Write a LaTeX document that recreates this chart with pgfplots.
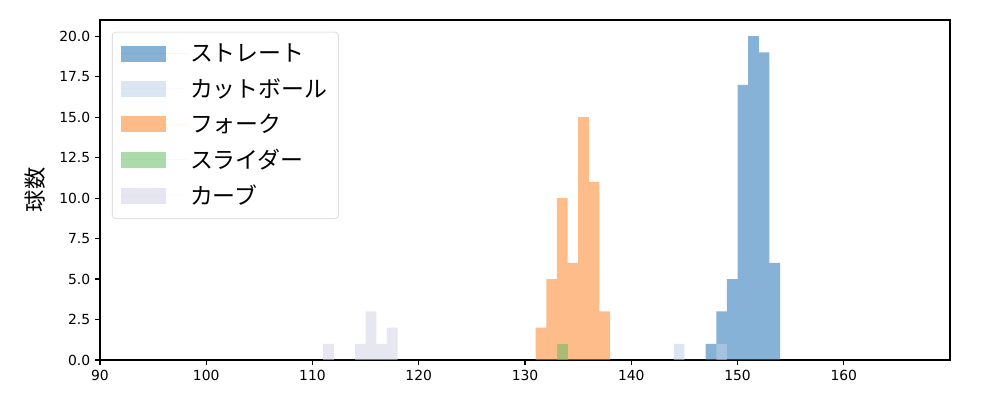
\documentclass[border=0pt]{standalone}
\usepackage{pgfplots}
\pgfplotsset{compat=1.18}
\usepackage{fontspec}
\setmainfont{DejaVu Sans}
\newfontfamily\jp{Noto Sans CJK JP}
\definecolor{cStr}{RGB}{33,115,180}
\definecolor{cCut}{RGB}{188,210,231}
\definecolor{cFork}{RGB}{251,133,42}
\definecolor{cSl}{RGB}{104,188,97}
\definecolor{cCur}{RGB}{211,211,230}
\pgfplotsset{limg/.style={legend image code/.code={\fill[#1, fill opacity=0.55, sharp corners] (0pt,-5.8pt) rectangle (33pt,5.8pt); \path (0pt,0pt) -- (48pt,0pt);}}}
\begin{document}
\begin{tikzpicture}
\path[use as bounding box] (-72pt,-28.8pt) rectangle (648pt,259.2pt);
\begin{axis}[
  at={(0,0)}, anchor=south west,
  scale only axis, width=612pt, height=244.8pt,
  xmin=90, xmax=170, ymin=0, ymax=21,
  xtick={90,100,...,160},
  ytick={0,2.5,...,20},
  yticklabel style={/pgf/number format/.cd, fixed, fixed zerofill, precision=1},
  /pgf/number format/assume math mode=true,
  tick label style={font=\fontsize{10}{12}\selectfont},
  tick align=outside, axis line style={line width=0.8pt},
  major tick style={line width=0.8pt, black},
  major tick length=3.5pt,
  xtick pos=bottom, ytick pos=left,
  ylabel={\jp 球数},
  ylabel style={font=\fontsize{16}{19}\selectfont, at={(axis description cs:-0.0765,0.5)}, anchor=center},
  legend style={at={(axis description cs:0.0141,0.965)}, anchor=north west,
    draw=black!18, rounded corners=2.5pt, font=\fontsize{16.5}{19}\selectfont\jp,
    row sep=6.5pt, inner xsep=6pt, inner ysep=6.5pt},
  legend cell align=left,
]
\addplot[ybar interval, fill=cStr, fill opacity=0.55, draw=none, limg=cStr]
  coordinates {(147,1) (148,3) (149,5) (150,17) (151,20) (152,19) (153,6) (154,6)};
\addlegendentry{ストレート}
\addplot[ybar interval, fill=cCut, fill opacity=0.55, draw=none, limg=cCut]
  coordinates {(144,1) (145,0) (146,0) (147,0) (148,1) (149,1)};
\addlegendentry{カットボール}
\addplot[ybar interval, fill=cFork, fill opacity=0.55, draw=none, limg=cFork]
  coordinates {(131,2) (132,5) (133,10) (134,6) (135,15) (136,11) (137,3) (138,3)};
\addlegendentry{フォーク}
\addplot[ybar interval, fill=cSl, fill opacity=0.55, draw=none, limg=cSl]
  coordinates {(133,1) (134,1)};
\addlegendentry{スライダー}
\addplot[ybar interval, fill=cCur, fill opacity=0.55, draw=none, limg=cCur]
  coordinates {(111,1) (112,0) (113,0) (114,1) (115,3) (116,1) (117,2) (118,2)};
\addlegendentry{カーブ}
\end{axis}
\end{tikzpicture}
\end{document}
